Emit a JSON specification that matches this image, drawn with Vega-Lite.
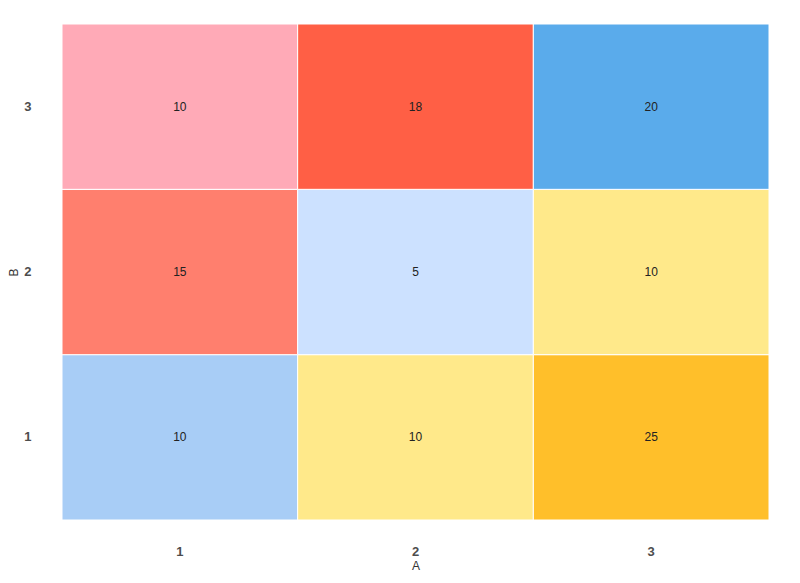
{
  "$schema": "https://vega.github.io/schema/vega-lite/v6.json",
  "autosize": "none",
  "width": 707,
  "height": 496,
  "padding": {"left": 62, "top": 24, "right": 31, "bottom": 63},
  "background": "white",
  "config": {"view": {"stroke": null}, "font": "Liberation Sans"},
  "data": {"values": [
    {"A": 1, "B": 1, "value": 10, "cell": "c11"},
    {"A": 2, "B": 1, "value": 10, "cell": "c21"},
    {"A": 3, "B": 1, "value": 25, "cell": "c31"},
    {"A": 1, "B": 2, "value": 15, "cell": "c12"},
    {"A": 2, "B": 2, "value": 5, "cell": "c22"},
    {"A": 3, "B": 2, "value": 10, "cell": "c32"},
    {"A": 1, "B": 3, "value": 10, "cell": "c13"},
    {"A": 2, "B": 3, "value": 18, "cell": "c23"},
    {"A": 3, "B": 3, "value": 20, "cell": "c33"}
  ]},
  "encoding": {
    "x": {"field": "A", "type": "ordinal", "scale": {"paddingInner": 0, "paddingOuter": 0},
      "axis": {"labelAngle": 0, "ticks": false, "domain": false, "labelPadding": 25, "labelFontSize": 13, "labelFontWeight": "bold", "labelColor": "#4d4d4d", "titleFontSize": 12, "titleFontWeight": "normal", "titleColor": "#333333", "titlePadding": 2}},
    "y": {"field": "B", "type": "ordinal", "sort": "descending", "scale": {"paddingInner": 0, "paddingOuter": 0},
      "axis": {"ticks": false, "domain": false, "labelPadding": 31, "labelFontSize": 13, "labelFontWeight": "bold", "labelColor": "#4d4d4d", "titleFontSize": 12, "titleFontWeight": "normal", "titleColor": "#333333", "titlePadding": 3}}
  },
  "layer": [
    {"mark": {"type": "rect", "stroke": "white", "strokeWidth": 1},
     "encoding": {"color": {"field": "cell", "type": "nominal", "legend": null,
       "scale": {"domain": ["c11","c21","c31","c12","c22","c32","c13","c23","c33"],
                 "range": ["#A8CDF6","#FFE98A","#FFBF2A","#FF7F6E","#CCE1FF","#FFE98A","#FFAAB7","#FF5F45","#5AABEB"]}}}},
    {"mark": {"type": "text", "fontSize": 12, "color": "#222222"},
     "encoding": {"text": {"field": "value", "type": "quantitative"}}}
  ]
}
